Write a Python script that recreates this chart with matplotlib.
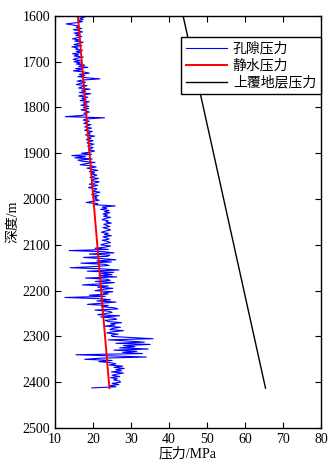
import matplotlib
matplotlib.use("Agg")
import matplotlib.pyplot as plt
import numpy as np

plt.rcParams['font.family'] = ['Liberation Serif', 'Noto Sans CJK SC']
plt.rcParams['axes.unicode_minus'] = False

# pore pressure log, one reading every 2.5 m from 1600 m (10 readings per row)
depth_start = 1600
depth_step = 2.5
pore = [
    17.0, 17.8, 16.5, 17.4, 16.0, 17.2, 15.4, 12.9, 14.8, 16.4,
    15.6, 17.0, 14.8, 16.2, 17.2, 15.0, 16.6, 15.4, 17.0, 16.0,
    14.6, 16.4, 15.2, 17.4, 16.2, 15.0, 17.0, 14.4, 16.0, 15.4,
    17.2, 15.6, 16.8, 14.6, 16.2, 15.0, 17.4, 15.6, 14.8, 16.8,
    # 1700
    15.0, 16.8, 15.6, 17.8, 16.2, 18.6, 15.4, 17.2, 14.8, 17.6,
    19.0, 16.4, 17.8, 16.0, 18.2, 21.8, 17.2, 15.8, 18.0, 16.6,
    15.6, 18.4, 17.0, 16.2, 19.2, 17.0, 18.0, 16.4, 19.4, 17.6,
    16.2, 18.6, 17.0, 18.2, 16.6, 19.0, 17.4, 18.4, 16.8, 18.8,
    # 1800
    17.4, 18.8, 16.8, 18.2, 19.0, 17.6, 18.4, 17.0, 12.7, 23.0,
    18.2, 17.4, 19.0, 18.0, 17.6, 19.4, 18.6, 17.8, 19.6, 18.4,
    17.8, 19.8, 18.6, 19.2, 18.0, 20.4, 18.8, 19.4, 18.2, 20.0,
    19.0, 18.4, 20.2, 19.2, 18.6, 20.0, 19.4, 18.8, 20.4, 19.2,
    # 1900
    17.0, 19.6, 14.4, 18.0, 15.2, 19.8, 16.0, 17.2, 20.5, 18.2,
    16.6, 19.6, 20.8, 18.4, 19.8, 21.2, 19.0, 20.4, 19.4, 21.0,
    20.2, 19.2, 21.4, 20.0, 19.6, 21.6, 20.4, 19.0, 21.2, 20.0,
    18.8, 21.0, 20.6, 19.8, 21.8, 20.4, 19.6, 21.4, 20.2, 21.0,
    # 2000
    20.4, 21.6, 19.8, 18.2, 21.2, 20.6, 25.8, 22.4, 23.6, 22.0,
    24.2, 23.0, 24.4, 22.6, 23.8, 22.8, 24.6, 23.2, 22.4, 24.0,
    23.4, 24.8, 22.8, 23.6, 24.4, 22.6, 23.8, 24.6, 23.2, 22.2,
    24.0, 23.0, 24.8, 22.6, 23.6, 24.2, 22.4, 23.8, 24.6, 23.0,
    # 2100
    22.0, 24.6, 23.2, 20.5, 24.0, 13.7, 22.8, 25.5, 19.0, 24.4,
    23.8, 17.5, 22.2, 26.0, 21.0, 24.8, 16.8, 23.0, 24.2, 20.2,
    14.0, 22.6, 26.8, 18.5, 25.4, 21.8, 25.0, 21.5, 26.2, 18.0,
    23.6, 24.5, 20.6, 25.6, 22.0, 17.2, 24.0, 21.2, 25.2, 22.4,
    # 2200
    20.5, 25.2, 22.6, 24.0, 19.0, 23.2, 12.6, 21.6, 24.6, 21.0,
    26.0, 22.4, 18.5, 24.0, 22.2, 25.6, 26.5, 20.5, 24.2, 25.0,
    23.4, 21.2, 27.0, 22.0, 25.4, 26.2, 23.2, 24.0, 27.5, 24.6,
    25.8, 23.0, 27.2, 25.2, 24.4, 28.0, 25.0, 23.6, 26.6, 24.8,
    # 2300
    25.0, 30.0, 35.8, 24.0, 29.0, 33.5, 26.0, 35.0, 28.0, 31.0,
    27.0, 34.5, 25.5, 31.5, 27.8, 33.0, 15.5, 24.5, 34.0, 22.0,
    17.8, 25.0, 21.5, 24.6, 26.0, 24.2, 27.8, 25.5, 28.2, 26.0,
    27.5, 24.8, 28.0, 26.2, 25.0, 27.0, 24.6, 26.4, 25.4, 27.0,
    # 2400
    27.2, 25.0, 26.8, 24.4, 26.0, 19.7,
]
pore_depth = depth_start + depth_step * np.arange(len(pore))

# hydrostatic and overburden pressure (straight trends)
trend_depth = [1600, 2413]
hydro = [16.0, 24.3]
overburden = [43.7, 65.4]

fig = plt.figure(figsize=(3.34, 4.68), dpi=100)
ax = fig.add_axes([0.165, 0.0855, 0.796, 0.8805])

ax.plot(pore, pore_depth, color='b', linewidth=0.8, label='孔隙压力')
ax.plot(hydro, trend_depth, color='r', linewidth=1.4, label='静水压力')
ax.plot(overburden, trend_depth, color='k', linewidth=1.0, label='上覆地层压力')

ax.set_xlim(10, 80)
ax.set_ylim(2500, 1600)
ax.set_xticks(np.arange(10, 81, 10))
ax.set_yticks(np.arange(1600, 2501, 100))
ax.tick_params(direction='in', top=True, right=True, length=4, labelsize=10)
for s in ax.spines.values():
    s.set_linewidth(1.0)

ax.set_xlabel('压力/MPa', fontsize=10, labelpad=1)
ax.set_ylabel('深度/m', fontsize=10, labelpad=2)

leg = ax.legend(loc='upper right', bbox_to_anchor=(1.0, 0.949), borderaxespad=0,
                fontsize=10, fancybox=False, framealpha=1, edgecolor='k',
                handlelength=3.0, handletextpad=0.4, labelspacing=0.25,
                borderpad=0.35)
leg.get_frame().set_linewidth(1.0)

fig.savefig('out.png', dpi=100)
